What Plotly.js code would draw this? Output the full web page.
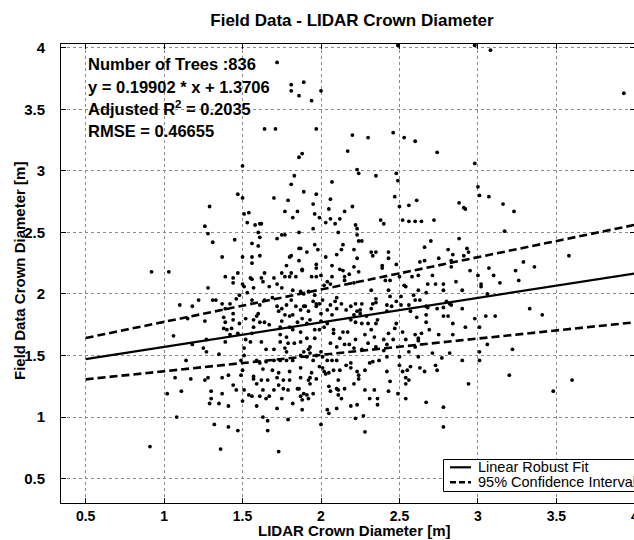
<!DOCTYPE html>
<html>
<head>
<meta charset="utf-8">
<script src="https://cdn.plot.ly/plotly-3.0.1.min.js"></script>
<style>
html,body{margin:0;padding:0;overflow:hidden;background:#fff;}
#chart{width:636px;height:540px;}
</style>
</head>
<body>
<div id="chart"></div>
<script>
// ---------- DATA ----------
// LIDAR crown diameter (x) and field crown diameter (y), grouped by region
const lidarTop = [1.81,1.89,1.86,2.00,1.94,1.64,1.71,1.97,1.81,1.72,2.49,2.98,3.08,3.93];
const fieldTop = [3.65,3.72,3.61,3.65,3.57,3.34,3.34,3.34,3.70,3.88,4.02,4.02,3.98,3.63];

const lidarUpperRight = [
 1.88,2.20,2.30,2.46,2.53,2.60,2.74,2.17,2.98,2.23,
 2.24,2.35,2.48,2.49,2.07,1.89,1.97,2.47,2.06,1.95,
 2.20,2.50,2.61,2.56,3.00,3.01,3.07,3.16,3.23,2.88,
 2.91,2.92,2.05,2.15,1.96,1.99,2.06,2.12,2.03,2.09,
 2.38,2.40,2.52,2.56,2.60,2.64,2.72,1.95,2.11,2.22,
 2.23,2.23,2.24,2.26,3.17,2.88,2.70,2.66,3.58,1.87,
 1.96,1.98,2.14,2.13,2.10,2.03,1.91,2.23,2.32,2.35,
 2.33,2.43,2.43,2.81,2.84,2.93,2.94,2.91,2.75,2.83,
 2.66,2.63,2.48,2.39,2.39,2.95,3.07,3.10,3.24,3.26,
 3.29,3.36,3.02,3.02,3.14,3.00,2.07,1.97,1.97,1.88,
 2.12,2.14,2.21,2.24,2.15,2.18,2.07,2.00,1.94,1.97,
 2.04,2.06,2.02,2.32,2.43,2.41,2.44,2.50,2.53,2.54,
 2.58,2.62,2.59,2.63,2.68,2.73,2.71,2.78,2.78,2.86,
 2.90,2.67,2.56,2.60,3.33,1.87,1.89,1.92,1.96,1.95,
 1.97,1.99,1.89,2.09,2.10,2.13,2.19,2.22,2.26,2.33,
 2.35,2.35,2.42,2.44,2.48,2.45,2.68,2.78,2.82,3.06];
const fieldUpperRight = [
 3.14,3.29,3.27,3.31,3.27,3.24,3.15,3.16,3.06,3.01,
 2.98,2.96,2.98,2.92,2.91,2.83,2.81,2.79,2.77,2.73,
 2.71,2.71,2.76,2.72,2.87,2.80,2.79,2.73,2.67,2.74,
 2.70,2.69,2.69,2.67,2.65,2.62,2.61,2.61,2.58,2.57,
 2.60,2.57,2.60,2.59,2.59,2.59,2.60,2.53,2.50,2.56,
 2.53,2.48,2.43,2.43,2.51,2.45,2.43,2.38,2.31,2.37,
 2.40,2.36,2.40,2.36,2.32,2.30,2.34,2.29,2.34,2.34,
 2.31,2.34,2.29,2.36,2.32,2.37,2.34,2.31,2.29,2.27,
 2.27,2.26,2.24,2.23,2.21,2.19,2.21,2.15,2.19,2.11,
 2.26,2.22,2.08,2.06,2.09,2.15,2.23,2.24,2.21,2.20,
 2.20,2.19,2.22,2.18,2.14,2.16,2.14,2.15,2.14,2.14,
 2.10,2.08,2.07,2.03,2.03,2.11,2.11,2.14,2.07,2.06,
 2.14,2.15,1.99,1.95,2.08,2.08,2.15,2.08,2.03,2.10,
 2.03,2.01,1.91,1.95,1.88,2.02,2.00,2.02,1.99,1.94,
 1.92,1.92,1.90,1.94,1.97,1.92,1.90,1.92,1.92,1.92,
 1.96,1.93,1.91,1.98,1.94,1.90,1.89,1.89,1.92,2.00];

const lidarUpperLeft = [
 0.92,1.03,1.29,1.26,1.28,1.31,1.37,1.28,1.39,1.44,
 1.44,1.47,1.45,1.47,1.50,1.50,1.51,1.54,1.53,1.58,
 1.61,1.62,1.60,1.61,1.56,1.60,1.50,1.56,1.56,1.61,
 1.55,1.56,1.50,1.51,1.62,1.63,1.64,1.70,1.67,1.70,
 1.72,1.75,1.77,1.77,1.79,1.81,1.83,1.86,1.85,1.82,
 1.86,1.80,1.81,1.78,1.86,1.86,1.88,1.81,1.77,1.80,
 1.84,1.75,1.72];
const fieldUpperLeft = [
 2.18,2.18,2.71,2.55,2.49,2.42,2.30,2.05,2.14,2.13,
 2.09,2.17,2.44,2.81,3.04,2.78,2.65,2.66,2.58,2.56,
 2.57,2.57,2.50,2.46,2.41,2.39,2.30,2.30,2.25,2.31,
 2.13,2.12,2.08,2.06,2.13,2.10,2.17,2.13,2.06,2.78,
 2.45,2.48,2.48,2.67,2.76,2.89,2.96,3.11,2.67,2.62,
 2.50,2.30,2.31,2.23,2.37,2.27,2.19,2.17,2.14,2.14,
 2.14,2.17,2.08];

const lidarLowerLeft = [
 1.10,1.18,1.22,1.31,1.33,1.37,1.39,1.42,1.46,1.48,
 1.44,1.44,1.38,1.40,1.39,1.26,1.15,1.06,1.18,1.25,
 1.27,1.35,1.51,1.51,1.52,1.52,1.55,1.56,1.57,1.57,
 1.59,1.60,1.61,1.64,1.67,1.62,1.65,1.70,1.74,1.74,
 1.74,1.75,1.77,1.80,1.82,1.85,1.88,1.91,1.82,1.78,
 1.79,1.77,1.78,1.83,1.87,1.91,1.96,1.92,1.97,2.00,
 1.99,2.02,2.03,2.05,2.05,2.04,2.05,2.00,2.11,2.11,
 2.10,1.97,1.94,1.93,1.87,1.86,1.89,1.92,1.88,1.87,
 1.85,1.82,1.79,1.76,1.73,1.75,1.72,1.79,1.70,1.67,
 1.65,1.63,1.61,1.59,1.62,1.59,1.57,1.57,1.54,1.56,
 1.51,1.50,1.46,1.44,1.49,1.49,1.50,1.41,1.37,1.37,
 1.30,1.30,1.29,1.35,1.41,1.28,1.26,1.17,1.14,1.07,
 1.11,1.02,1.08,1.32,1.41,1.47,1.63,1.66,1.66,0.91,
 1.36,1.73,1.61,1.64,1.69,1.72,1.73,1.75,1.78,1.81,
 1.84,1.87,1.90,1.92,1.97,2.00,2.04,2.07,2.10,2.01,
 1.82,1.75,1.57,1.53,1.56,1.96,1.99,2.04,
 2.08,2.06,2.10,2.10,2.04,1.95,1.91,1.87,1.82,1.78,
 1.74,1.70,1.65,1.61,1.59,1.63,1.69,1.73,1.80,1.87,
 1.92,1.80,1.76,1.72,1.66,1.87,1.80,
 1.38,1.39,1.43,1.42,1.47,1.48,1.27];
const fieldLowerLeft = [
 1.91,1.90,1.95,1.95,1.95,1.92,1.88,1.92,1.96,1.99,
 1.84,1.79,1.72,1.71,1.61,1.78,1.80,1.66,1.59,1.56,
 1.53,1.51,1.56,1.50,1.63,1.80,1.61,1.68,1.73,1.79,
 1.82,1.84,1.77,1.77,1.75,1.61,1.55,1.55,1.61,1.67,
 1.73,1.78,1.83,1.82,1.83,1.77,1.80,1.76,1.71,1.65,
 1.60,1.56,1.53,1.60,1.61,1.64,1.64,1.55,1.50,1.53,
 1.41,1.37,1.35,1.36,1.25,1.06,1.03,0.94,1.30,1.22,
 1.07,1.31,1.36,1.27,1.40,1.23,1.19,1.15,1.06,1.17,
 1.23,1.11,1.22,1.23,1.26,1.15,1.07,0.98,1.22,1.17,
 1.15,1.22,1.17,1.09,1.30,1.27,1.33,1.31,1.18,1.17,
 1.22,1.13,1.22,1.26,1.34,1.46,1.38,1.34,1.32,1.19,
 1.21,1.15,1.11,1.11,1.09,1.32,1.30,1.31,1.46,1.32,
 1.21,1.19,1.00,0.94,0.92,0.89,1.00,0.97,0.89,0.76,
 0.74,0.72,1.91,1.95,1.97,1.90,1.86,1.88,1.91,1.95,
 1.90,1.87,1.90,1.86,1.90,1.84,1.87,1.83,1.88,1.95,
 2.03,2.05,2.05,2.01,1.95,1.71,1.71,1.76,
 1.71,1.60,1.57,1.46,1.46,1.46,1.49,1.50,1.46,1.46,
 1.46,1.46,1.45,1.44,1.46,1.39,1.38,1.36,1.37,1.32,
 1.30,1.30,1.30,1.32,1.30,1.69,1.73,
 1.81,1.77,1.72,1.67,1.68,1.76,1.63];

const lidarLowerRight = [
 2.28,2.22,2.27,2.78,2.78,2.67,2.54,2.36,2.36,2.31,
 2.19,2.23,1.88,1.91,1.95,2.06,2.11,2.13,2.10,2.15,
 2.21,2.24,2.28,2.34,2.43,2.44,2.49,2.54,2.56,2.54,
 2.52,2.55,2.63,2.66,2.73,2.74,2.62,2.77,2.90,2.94,
 3.01,3.01,3.20,3.22,3.48,3.60,3.06,3.05,3.11,2.98,
 3.01,3.41,2.92,2.84,2.84,2.81,2.78,2.90,2.83,2.74,
 2.67,2.67,2.67,2.69,2.62,2.60,2.54,2.56,2.71,2.82,
 2.52,2.61,2.48,2.47,2.43,2.40,2.46,2.42,2.40,
 2.35,2.30,2.28,2.32,2.35,2.30,2.26,2.25,2.29,2.36,
 2.32,2.42,2.21,2.16,2.06,2.00,2.02,
 2.08,2.14,2.17,2.12,2.15,2.18,2.22,2.21,2.26,1.93,
 1.89,2.01,2.07,2.16,2.19,2.19,2.23,2.24,
 2.28,2.31,2.33,2.37,2.42,2.50,2.50,1.93,2.01,2.08,
 2.12,
 2.83,2.62,2.80,2.57,2.64,2.75,2.62,2.60,2.57,2.21,
 2.15,2.21,2.23,2.25,2.51,2.51,1.93,2.19,2.22,2.34,
 1.93,2.42];
const fieldLowerRight = [
 0.88,0.99,1.01,0.92,1.08,1.12,1.15,1.10,1.15,1.15,
 1.09,1.10,1.14,1.18,1.19,1.21,1.18,1.15,1.23,1.23,
 1.27,1.31,1.22,1.22,1.21,1.29,1.19,1.27,1.30,1.32,
 1.37,1.38,1.40,1.37,1.42,1.38,1.49,1.48,1.46,1.27,
 1.46,1.53,1.34,1.55,1.21,1.30,1.59,1.82,1.82,1.80,
 1.73,1.83,1.73,1.67,1.76,1.82,1.82,1.88,1.91,1.88,
 1.90,1.83,1.77,1.71,1.64,1.67,1.63,1.53,1.52,1.52,
 1.69,1.81,1.76,1.72,1.68,1.63,1.63,1.59,1.54,
 1.57,1.60,1.67,1.71,1.76,1.76,1.76,1.84,1.82,1.79,
 1.88,1.86,1.83,1.87,1.91,1.78,1.73,
 1.68,1.69,1.69,1.64,1.59,1.59,1.63,1.56,1.55,1.57,
 1.53,1.49,1.46,1.42,1.40,1.44,1.37,1.34,
 1.38,1.44,1.45,1.46,1.49,1.42,1.49,1.32,1.40,1.38,
 1.38,
 2.22,2.03,1.94,1.86,1.68,1.67,1.62,1.57,1.41,2.36,
 2.11,2.09,1.86,1.87,1.98,1.91,1.79,1.79,1.77,1.65,
 1.52,1.37];

// Fit line and 95% confidence interval end points
const lineX   = [0.5, 4.0];
const fitY    = [1.4701, 2.1667];   // y = 0.19902 * x + 1.3706
const ciUpper = [1.642, 2.561];
const ciLower = [1.306, 1.770];

// Axis ticks (the last x label, "4", sits on the cropped right edge)
const xTicks = [0.5, 1, 1.5, 2, 2.5, 3, 3.5, 4];
const xTickText = ['0.5','1','1.5','2','2.5','3','3.5',''];
const xEdgeLabel = '4';
const yTicks = [0.5, 1, 1.5, 2, 2.5, 3, 3.5, 4];
const yTickText = ['0.5','1','1.5','2','2.5','3','3.5','4'];

// Text
const chartTitle = 'Field Data - LIDAR Crown Diameter';
const xTitle = 'LIDAR Crown Diameter [m]';
const yTitle = 'Field Data Crown Diameter [m]';
const statLines = [
  'Number of Trees :836',
  'y = 0.19902 * x + 1.3706',
  'Adjusted R<sup>2</sup> = 0.2035',
  'RMSE = 0.46655'
];
const legendLabels = ['Linear Robust Fit', '95% Confidence Interval'];

// ---------- BUILD ----------
const lidarX = [].concat(lidarTop, lidarUpperRight, lidarUpperLeft, lidarLowerLeft, lidarLowerRight);
const fieldY = [].concat(fieldTop, fieldUpperRight, fieldUpperLeft, fieldLowerLeft, fieldLowerRight);

const FONT = '"Liberation Sans", Arial, Helvetica, sans-serif';
const W = 636, H = 540, ML = 61, MR = 1, MT = 44, MB = 37;
const PW = W - ML - MR, PH = H - MT - MB;
const px2paperX = p => (p - ML) / PW;
const px2paperY = p => (H - MB - p) / PH;

const traces = [
  {type:'scatter', mode:'markers', x: lidarX, y: fieldY, name:'Trees',
   marker:{color:'#000', size:3.8, line:{width:0}}, showlegend:false, hoverinfo:'x+y'},
  {type:'scatter', mode:'lines', x: lineX, y: fitY, name: legendLabels[0],
   line:{color:'#000', width:2.2}, showlegend:false},
  {type:'scatter', mode:'lines', x: lineX, y: ciUpper, name: legendLabels[1],
   line:{color:'#000', width:2.6, dash:'8px,4px'}, showlegend:false},
  {type:'scatter', mode:'lines', x: lineX, y: ciLower, name: legendLabels[1],
   line:{color:'#000', width:2.6, dash:'8px,4px'}, showlegend:false}
];

const statY = [64, 87, 108.5, 131];
const annotations = statLines.map((t, i) => ({
  text: '<b>' + t + '</b>', xref:'paper', yref:'paper',
  x: px2paperX(86), y: px2paperY(statY[i]), xanchor:'left', yanchor:'middle',
  showarrow:false, font:{family:FONT, size:16.5, color:'#000'}
}));
// axis titles
annotations.push({
  text:'<b>' + xTitle + '</b>', xref:'paper', yref:'paper',
  x: px2paperX(354), y: px2paperY(530), xanchor:'center', yanchor:'middle',
  showarrow:false, font:{family:FONT, size:15, color:'#000'}
});
annotations.push({
  text:'<b>' + yTitle + '</b>', xref:'paper', yref:'paper', textangle:-90,
  x: px2paperX(19), y: px2paperY(271), xanchor:'center', yanchor:'middle',
  showarrow:false, font:{family:FONT, size:15, color:'#000'}
});
// x label on the cropped right edge
annotations.push({
  text:'<b>' + xEdgeLabel + '</b>', xref:'paper', yref:'paper',
  x: px2paperX(635), y: px2paperY(515.5), xanchor:'center', yanchor:'middle',
  showarrow:false, font:{family:FONT, size:14, color:'#000'}
});
// legend labels
const legRowY = [467.3, 482.3];
legendLabels.forEach((t, i) => annotations.push({
  text: t, xref:'paper', yref:'paper', x: px2paperX(476), y: px2paperY(legRowY[i]),
  xanchor:'left', yanchor:'middle', showarrow:false,
  font:{family:FONT, size:14.5, color:'#000'}
}));

const shapes = [
  {type:'rect', xref:'paper', yref:'paper', x0: px2paperX(443.5), x1: 1.05,
   y0: px2paperY(491.5), y1: px2paperY(459.5), line:{color:'#000', width:1}, fillcolor:'#fff', layer:'above'},
  {type:'line', xref:'paper', yref:'paper', x0: px2paperX(450), x1: px2paperX(471),
   y0: px2paperY(legRowY[0]), y1: px2paperY(legRowY[0]), line:{color:'#000', width:2.2}, layer:'above'},
  {type:'line', xref:'paper', yref:'paper', x0: px2paperX(450), x1: px2paperX(471),
   y0: px2paperY(legRowY[1]), y1: px2paperY(legRowY[1]), line:{color:'#000', width:2.6, dash:'6px,3px'}, layer:'above'}
];

const axisCommon = {
  ticks:'inside', ticklen:5, tickwidth:1, tickcolor:'#000',
  showline:true, linecolor:'#000', linewidth:1, mirror:'ticks',
  showgrid:true, gridcolor:'#8a8a8a', gridwidth:1, griddash:'dot',
  zeroline:false, automargin:false
};

const layout = {
  width: W, height: H,
  margin:{l:ML, r:MR, t:MT, b:MB, pad:0},
  paper_bgcolor:'#fff', plot_bgcolor:'#fff',
  font:{family:FONT, color:'#000'},
  title:{text:'<b>' + chartTitle + '</b>', font:{family:FONT, size:17, color:'#000'},
         xref:'container', yref:'container', x:352/W, xanchor:'center', y:1 - 20/H, yanchor:'middle'},
  xaxis: Object.assign({}, axisCommon, {
    range:[0.343, 4.001], tickmode:'array', tickvals:xTicks, ticktext:xTickText,
    ticklabelstandoff:0,
    tickfont:{family:FONT, size:14, color:'#000', weight:'bold'}
  }),
  yaxis: Object.assign({}, axisCommon, {
    range:[0.302, 4.03], tickmode:'array', tickvals:yTicks, ticktext:yTickText,
    ticklabelstandoff:12,
    tickfont:{family:FONT, size:15, color:'#000', weight:'bold'}
  }),
  annotations: annotations,
  shapes: shapes,
  showlegend:false
};

Plotly.newPlot('chart', traces, layout, {displayModeBar:false, staticPlot:true});
</script>
</body>
</html>
